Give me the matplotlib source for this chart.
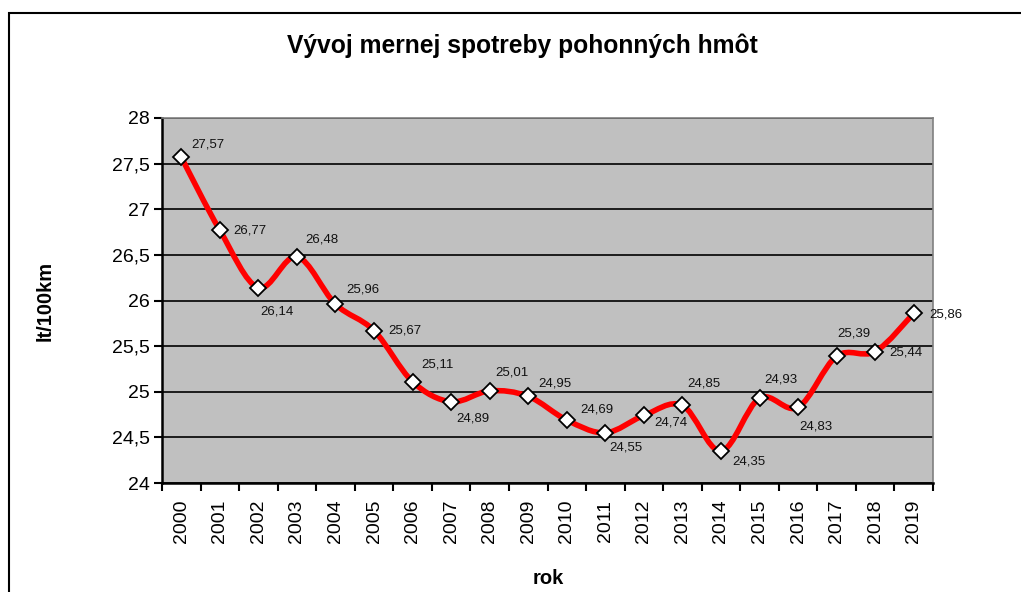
import matplotlib
matplotlib.use('Agg')
import matplotlib.pyplot as plt
import numpy as np
from matplotlib.path import Path
from matplotlib.patches import PathPatch, Rectangle
from matplotlib.ticker import FixedLocator, FuncFormatter

plt.rcParams['font.family'] = ['Liberation Sans', 'DejaVu Sans']

# Data
roky = ['2000', '2001', '2002', '2003', '2004', '2005', '2006', '2007', '2008', '2009',
        '2010', '2011', '2012', '2013', '2014', '2015', '2016', '2017', '2018', '2019']
spotreba = [27.57, 26.77, 26.14, 26.48, 25.96, 25.67, 25.11, 24.89, 25.01, 24.95,
            24.69, 24.55, 24.74, 24.85, 24.35, 24.93, 24.83, 25.39, 25.44, 25.86]

# posun popiskov (pixely, x doprava, y nahor)
label_offsets = [(27, 13), (30, 0), (19, -24), (25, 17), (27, 15), (31, 0), (25, 17),
                 (22, -17), (22, 18), (27, 13), (30, 11), (21, -15), (27, -7), (21, 22),
                 (28, -10), (21, 19), (18, -19), (17, 23), (31, -1), (32, -1)]

fig = plt.figure(figsize=(10.21, 5.92), dpi=100)
ax = fig.add_axes([162/1021, 1 - 483/592, (933-162)/1021, (483-118)/592])
ax.set_facecolor('#C0C0C0')

x = np.arange(len(roky))
y = np.array(spotreba)

# vyhladena ciara (Bezier cez body, ako v Exceli)
verts = [(x[0], y[0])]
codes = [Path.MOVETO]
n = len(x)
for i in range(n - 1):
    p0 = (x[max(i-1, 0)], y[max(i-1, 0)])
    p1 = (x[i], y[i])
    p2 = (x[i+1], y[i+1])
    p3 = (x[min(i+2, n-1)], y[min(i+2, n-1)])
    c1 = (p1[0] + (p2[0]-p0[0])/6, p1[1] + (p2[1]-p0[1])/6)
    c2 = (p2[0] - (p3[0]-p1[0])/6, p2[1] - (p3[1]-p1[1])/6)
    verts += [c1, c2, p2]
    codes += [Path.CURVE4]*3
ax.add_patch(PathPatch(Path(verts, codes), facecolor='none', edgecolor='#FF0000',
                       lw=4.0, capstyle='round', joinstyle='round', zorder=3))

ax.plot(x, y, linestyle='none', marker='D', markersize=8, markerfacecolor='white',
        markeredgecolor='black', markeredgewidth=1.3, zorder=4)

for xi, yi, (dx, dy) in zip(x, y, label_offsets):
    ax.annotate(f'{yi:.2f}'.replace('.', ','), (xi, yi), xytext=(dx, dy),
                textcoords='offset pixels', ha='center', va='center',
                fontsize=9.5, color='#111111', zorder=5)

ax.set_xlim(-0.5, len(roky) - 0.5)
ax.set_ylim(24, 28)
ax.set_yticks(np.arange(24, 28.01, 0.5))
ax.yaxis.set_major_formatter(FuncFormatter(lambda v, p: f'{v:g}'.replace('.', ',')))
ax.grid(axis='y', color='black', linewidth=1.2, zorder=1)
ax.set_axisbelow(True)

ax.xaxis.set_major_locator(FixedLocator(np.arange(-0.5, len(roky), 1.0)))
ax.xaxis.set_major_formatter(FuncFormatter(lambda v, p: ''))
ax.xaxis.set_minor_locator(FixedLocator(x))
ax.set_xticklabels(roky, minor=True, rotation=90, fontsize=14)
ax.tick_params(axis='x', which='minor', length=0, pad=12)
ax.tick_params(axis='x', which='major', length=6, width=1.5, direction='out')
ax.tick_params(axis='y', length=6, width=1.5, labelsize=14, pad=3)

for s in ['left', 'bottom']:
    ax.spines[s].set_linewidth(1.8)
    ax.spines[s].set_color('black')
for s in ['top', 'right']:
    ax.spines[s].set_linewidth(1.2)
    ax.spines[s].set_color('#808080')

fig.text(522/1021, 1 - 46/592, 'Vývoj mernej spotreby pohonných hmôt', ha='center',
         va='center', fontsize=17.7, fontweight='bold')
fig.text(45/1021, 1 - 301/592, 'lt/100km', ha='center', va='center', rotation=90,
         fontsize=14.5, fontweight='bold')
fig.text(548/1021, 1 - 578/592, 'rok', ha='center', va='center', fontsize=14.5,
         fontweight='bold')

# ramik grafu
fig.patches.append(Rectangle((9/1021, -0.1), 1.1, 1.1 - 13/592, transform=fig.transFigure,
                             fill=False, edgecolor='black', linewidth=1.5))

fig.savefig('out.png', dpi=100)
